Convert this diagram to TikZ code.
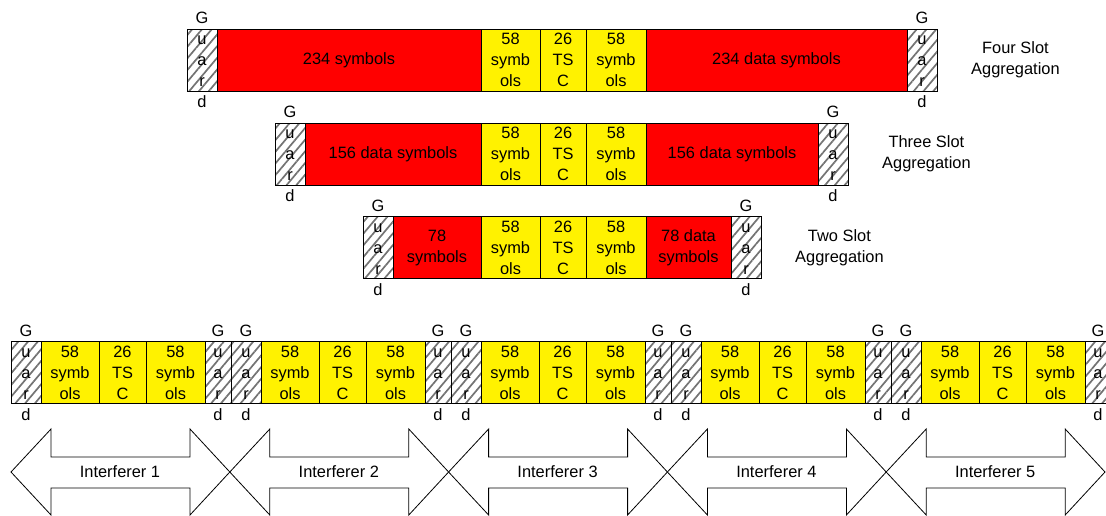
\documentclass[tikz,border=0pt]{standalone}
\usepackage{fontspec}
\setmainfont{Liberation Sans}
\usetikzlibrary{positioning,patterns.meta}

\tikzset{
  txt/.style={font=\fontsize{16.4}{21}\selectfont},
  cell/.style={draw, line width=0.8pt, txt, minimum height=62, inner sep=0pt, outer sep=0pt, align=center},
  gtext/.style={txt, align=center, inner sep=0pt},
  guard/.style={cell, minimum width=30,
    pattern={Lines[angle=50,distance=7.5pt,line width=1.7pt]}, pattern color=black!55,
    label={[gtext]center:G\\u\\a\\r\\d}},
  datab/.style={cell, fill=red},
  pilot/.style={cell, fill=yellow},
  caption/.style={txt, align=center, inner sep=0pt},
  interf/.style={draw, line width=0.8pt},
}

\begin{document}
\begin{tikzpicture}[x=1pt,y=-1pt]
  \useasboundingbox (0,0) rectangle (1106,515);

  % four slot aggregation
  \node[guard, anchor=west] (g1a) at (187,60) {};
  \node[datab, minimum width=264, right=0pt of g1a] (d1a) {234 symbols};
  \node[pilot, minimum width=59, right=0pt of d1a] (s1a) {58\\symb\\ols};
  \node[pilot, minimum width=46, right=0pt of s1a] (t1) {26\\TS\\C};
  \node[pilot, minimum width=60, right=0pt of t1] (s1b) {58\\symb\\ols};
  \node[datab, minimum width=261, right=0pt of s1b] (d1b) {234 data symbols};
  \node[guard, right=0pt of d1b] (g1b) {};
  \node[caption, right=34pt of g1b] (c1) {Four Slot\\Aggregation};

  % three slot aggregation
  \node[guard, anchor=west] (g2a) at (275,154) {};
  \node[datab, minimum width=176, right=0pt of g2a] (d2a) {156 data symbols};
  \node[pilot, minimum width=59, right=0pt of d2a] (s2a) {58\\symb\\ols};
  \node[pilot, minimum width=46, right=0pt of s2a] (t2) {26\\TS\\C};
  \node[pilot, minimum width=60, right=0pt of t2] (s2b) {58\\symb\\ols};
  \node[datab, minimum width=172, right=0pt of s2b] (d2b) {156 data symbols};
  \node[guard, right=0pt of d2b] (g2b) {};
  \node[caption, right=34pt of g2b] (c2) {Three Slot\\Aggregation};

  % two slot aggregation
  \node[guard, anchor=west] (g3a) at (363,247.5) {};
  \node[datab, minimum width=88, right=0pt of g3a] (d3a) {78\\symbols};
  \node[pilot, minimum width=59, right=0pt of d3a] (s3a) {58\\symb\\ols};
  \node[pilot, minimum width=46, right=0pt of s3a] (t3) {26\\TS\\C};
  \node[pilot, minimum width=60, right=0pt of t3] (s3b) {58\\symb\\ols};
  \node[datab, minimum width=85, right=0pt of s3b] (d3b) {78 data\\symbols};
  \node[guard, right=0pt of d3b] (g3b) {};
  \node[caption, right=34pt of g3b] (c3) {Two Slot\\Aggregation};

  % single slots of the interferers
  \foreach \k [evaluate=\k as \x using 11+220*\k] in {0,...,4} {
    \node[guard, anchor=west] (lg\k) at (\x,372.5) {};
    \node[pilot, minimum width=58, right=0pt of lg\k] (pa\k) {58\\symb\\ols};
    \node[pilot, minimum width=47, right=0pt of pa\k] (tb\k) {26\\TS\\C};
    \node[pilot, minimum width=59, right=0pt of tb\k] (pc\k) {58\\symb\\ols};
    \node[guard, minimum width=26, right=0pt of pc\k] (rg\k) {};
  }

  % interferer arrows
  \foreach \k [evaluate=\k as \n using int(\k+1)] in {0,...,4} {
    \begin{scope}[xshift={218.8pt*\k}]
      \draw[interf] (11,472) -- (51,429) -- (51,457) -- (190,457) -- (190,429) -- (229.8,472)
        -- (190,515) -- (190,488) -- (51,488) -- (51,515) -- cycle;
      \node[caption] (if\n) at (120,472) {Interferer \n};
    \end{scope}
  }
\end{tikzpicture}
\end{document}
